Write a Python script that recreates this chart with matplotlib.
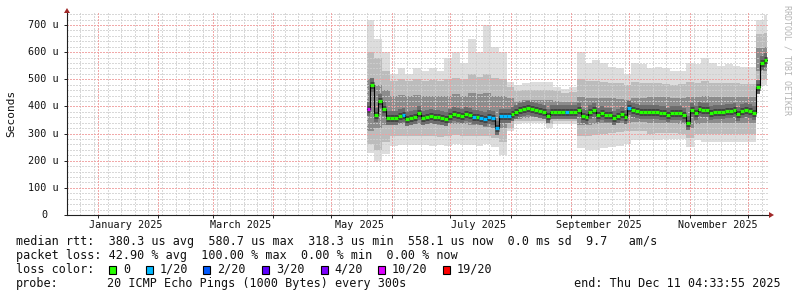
import matplotlib
matplotlib.use("Agg")
import matplotlib.pyplot as plt
from matplotlib.patches import Polygon, Rectangle
from matplotlib.transforms import blended_transform_factory
import pandas as pd

# time range of the graph (last 360 days)
graph_start = pd.Timestamp("2024-12-16 04:33:55")
graph_end = pd.Timestamp("2025-12-11 04:33:55")
data_end = pd.Timestamp("2025-12-10 12:00")

# median rtt in microseconds, one value every 2 days from 2025-05-19
med_rtt = [390, 479, 370, 420, 390, 358, 358, 357, 365, 368,
           352, 357, 361, 376, 358, 362, 365, 362, 362, 358,
           352, 365, 372, 368, 365, 372, 368, 362, 360, 357,
           354, 361, 357, 322, 365, 365, 366, 372, 381, 385,
           390, 394, 390, 387, 384, 380, 365, 381, 381, 381,
           378, 379, 381, 380, 385, 365, 362, 379, 385, 368,
           375, 368, 370, 358, 366, 372, 360, 394, 387, 384,
           380, 378, 380, 381, 378, 377, 375, 368, 375, 376,
           375, 370, 340, 385, 376, 390, 385, 388, 374, 381,
           379, 380, 382, 383, 387, 372, 382, 386, 382, 377,
           470, 560, 570]
# lost pings out of 20 for each median sample
med_loss = [10, 0, 0, 0, 0, 0, 0, 0, 0, 1,
            0, 0, 0, 0, 0, 0, 0, 0, 0, 0,
            0, 0, 0, 0, 0, 0, 0, 1, 0, 1,
            1, 1, 1, 1, 1, 1, 1, 0, 0, 0,
            0, 0, 0, 0, 0, 0, 0, 0, 0, 0,
            0, 1, 0, 0, 0, 0, 0, 0, 0, 0,
            0, 0, 0, 0, 0, 0, 0, 1, 0, 0,
            0, 0, 0, 0, 0, 0, 0, 0, 0, 0,
            0, 0, 0, 0, 0, 0, 0, 0, 0, 0,
            0, 0, 0, 0, 0, 0, 0, 0, 0, 0,
            0, 0, 0]

# smoke envelope (microseconds), one value every 4 days from 2025-05-19
band_max = [720, 650, 600,
            520, 540, 520, 540, 530, 540, 530,
            580, 600, 560, 650, 600, 700, 620, 600,
            490,
            480, 485, 490, 490, 490, 470, 465, 470,
            600, 560, 570, 560, 545, 540, 520, 560, 555,
            540, 545, 540, 530, 530, 560, 555, 580, 560, 550, 555, 550, 545, 545,
            720, 735]
band_hi2 = [600, 580, 530,
            495, 500, 495, 500, 495, 498, 495,
            500, 505, 500, 520, 510, 520, 505, 500,
            470,
            458, 460, 462, 462, 460, 455, 450, 452,
            500, 495, 495, 490, 488, 485, 480, 490, 488,
            485, 485, 483, 480, 482, 490, 488, 492, 488, 485, 487, 485, 483, 483,
            665, 670]
band_hi1 = [500, 480, 460,
            440, 442, 440, 442, 440, 440, 438,
            440, 445, 440, 450, 445, 450, 440, 440,
            430,
            420, 422, 425, 425, 422, 420, 418, 418,
            435, 432, 432, 430, 430, 428, 425, 430, 430,
            435, 435, 433, 430, 432, 435, 435, 438, 436, 434, 436, 435, 434, 434,
            615, 620]
band_lo1 = [310, 320, 330,
            335, 335, 333, 335, 335, 334, 333,
            335, 335, 335, 330, 330, 325, 320, 320,
            345,
            355, 358, 360, 360, 355, 358, 358, 358,
            330, 330, 335, 338, 340, 340, 340, 342, 342,
            338, 338, 340, 338, 336, 320, 336, 338, 338, 338, 340, 338, 338, 338,
            530, 530]
band_lo2 = [260, 240, 270,
            290, 292, 290, 290, 290, 290, 288,
            290, 295, 290, 290, 290, 290, 285, 270,
            320,
            345, 348, 348, 348, 335, 345, 345, 345,
            290, 290, 295, 300, 302, 305, 308, 310, 310,
            300, 302, 303, 302, 300, 285, 300, 298, 298, 300, 300, 300, 298, 298,
            500, 500]
band_min = [230, 200, 225,
            255, 258, 258, 256, 258, 255, 258,
            255, 260, 258, 258, 255, 260, 250, 220,
            310,
            335, 338, 338, 338, 320, 335, 335, 335,
            245, 240, 240, 245, 250, 255, 260, 276, 276,
            275, 278, 280, 280, 280, 250, 275, 268, 268, 268, 268, 268, 268, 268,
            475, 478]

loss_steps = [0, 1, 2, 3, 4, 10, 19]
loss_labels = ["0", "1/20", "2/20", "3/20", "4/20", "10/20", "19/20"]
loss_colors = ["#26ff00", "#00b8ff", "#0059ff", "#5e00ff", "#7e00ff", "#dd00ff", "#ff0000"]

y_ticks = [0, 100, 200, 300, 400, 500, 600, 700]
y_labels = ["0", "100 u", "200 u", "300 u", "400 u", "500 u", "600 u", "700 u"]
month_labels = ["January 2025", "March 2025", "May 2025", "July 2025",
                "September 2025", "November 2025"]
month_label_dates = ["2025-01-15 12:00", "2025-03-15 12:00", "2025-05-15 12:00",
                     "2025-07-15 12:00", "2025-09-15 12:00", "2025-11-15 12:00"]

W, H = 797, 297
MONO = "DejaVu Sans Mono"


def fx(x):
    return x / W


def fy(y):
    return 1 - y / H


fig = plt.figure(figsize=(W / 100, H / 100), dpi=100)
fig.patch.set_facecolor("white")
ax = fig.add_axes([fx(67), fy(215), (768 - 67) / W, (215 - 13) / H])
ax.set_xlim(graph_start, graph_end)
ax.set_ylim(0, 744)

# smoke bands
band_dates = list(pd.date_range("2025-05-19", periods=len(band_max), freq="4D")) + [data_end]


def ext(v):
    return list(v) + [v[-1]]


ax.fill_between(band_dates, ext(band_min), ext(band_max), step="post", color="#dddddd", lw=0, zorder=1)
ax.fill_between(band_dates, ext(band_lo2), ext(band_hi2), step="post", color="#bcbcbc", lw=0, zorder=1.1)
ax.fill_between(band_dates, ext(band_lo1), ext(band_hi1), step="post", color="#8c8c8c", lw=0, zorder=1.2)

# grid (dotted, drawn over the smoke like rrdtool)
week_days = pd.date_range("2024-12-23", graph_end, freq="7D")
month_starts = pd.date_range("2025-01-01", graph_end, freq="MS")
dots = (0, (1.39, 1.39))
grid_kw = dict(lw=0.72, ls=dots, antialiased=False)
for d in week_days:
    ax.axvline(d, color="#cfcfcf", alpha=0.8, zorder=2, **grid_kw)
for v in range(20, 744, 20):
    if v % 100:
        ax.axhline(v, color="#cfcfcf", alpha=0.8, zorder=2, **grid_kw)
for d in month_starts:
    ax.axvline(d, color="#f0a0a0", alpha=0.9, zorder=2.1, **grid_kw)
for v in y_ticks[1:]:
    ax.axhline(v, color="#f0a0a0", alpha=0.9, zorder=2.1, **grid_kw)

# median line: dark core, thin black connector, coloured loss segments
med_dates = list(pd.date_range("2025-05-19", periods=len(med_rtt), freq="2D")) + [data_end]
ax.hlines(med_rtt, med_dates[:-1], med_dates[1:], colors="#6c6c6c", lw=10, zorder=3)
ax.hlines(med_rtt, med_dates[:-1], med_dates[1:], colors="#424242", lw=5, zorder=3.1)
ax.step(med_dates, ext(med_rtt), where="post", color="black", lw=0.8, zorder=3.2)


def loss_color(n):
    c = loss_colors[0]
    for s, col in zip(loss_steps, loss_colors):
        if n >= s:
            c = col
    return c


seg_colors = [loss_color(n) for n in med_loss]
ax.hlines(med_rtt, med_dates[:-1], med_dates[1:], colors=seg_colors, lw=2.3, zorder=4)

# axes styling
for s in ["top", "right"]:
    ax.spines[s].set_visible(False)
for s in ["left", "bottom"]:
    ax.spines[s].set_color("#202020")
    ax.spines[s].set_linewidth(0.8)
    ax.spines[s].set_zorder(5)
ax.set_facecolor("white")
ax.set_yticks(y_ticks)
ax.set_xticks(month_starts)
ax.tick_params(length=2, width=0.7, color="#202020", labelleft=False, labelbottom=False)

# tick labels
tr_y = blended_transform_factory(fig.transFigure, ax.transData)
for v, lab in zip(y_ticks, y_labels):
    xr = 47 if lab == "0" else 59
    ax.text(fx(xr), v, lab, transform=tr_y, ha="right", va="center",
            family=MONO, size=7.3, color="#111111")
tr_x = blended_transform_factory(ax.transData, fig.transFigure)
for d, lab in zip(month_label_dates, month_labels):
    ax.text(pd.Timestamp(d), fy(225), lab, transform=tr_x, ha="center", va="center",
            family=MONO, size=7.3, color="#111111")

fig.text(fx(11), fy(113), "Seconds", rotation=90, ha="center", va="center",
         family=MONO, size=8, color="#111111")
fig.text(fx(787), fy(60), "RRDTOOL / TOBI OETIKER", rotation=270, ha="center", va="center",
         family=MONO, size=6, color="#b4b4b4")

# axis arrows
fig.add_artist(Polygon([(fx(769), fy(212)), (fx(769), fy(218)), (fx(774), fy(215))],
                       closed=True, transform=fig.transFigure, color="#a02828", lw=0))
fig.add_artist(Polygon([(fx(64), fy(13)), (fx(70), fy(13)), (fx(67), fy(8))],
                       closed=True, transform=fig.transFigure, color="#a02828", lw=0))

# legend
leg_size = 8.5
fig.text(fx(16), fy(241.5),
         "median rtt:  380.3 us avg  580.7 us max  318.3 us min  558.1 us now  0.0 ms sd  9.7   am/s",
         ha="left", va="center", family=MONO, size=leg_size, color="#111111")
fig.text(fx(16), fy(255.5),
         "packet loss: 42.90 % avg  100.00 % max  0.00 % min  0.00 % now",
         ha="left", va="center", family=MONO, size=leg_size, color="#111111")
fig.text(fx(16), fy(269.5), "loss color:", ha="left", va="center",
         family=MONO, size=leg_size, color="#111111")
box_x = [109, 146, 203.5, 262, 320.5, 378, 443]
for bx, col, lab in zip(box_x, loss_colors, loss_labels):
    fig.add_artist(Rectangle((fx(bx), fy(273.5)), 7 / W, 8 / H, transform=fig.transFigure,
                             facecolor=col, edgecolor="black", lw=0.8))
    fig.text(fx(bx + 14), fy(269.5), lab, ha="left", va="center",
             family=MONO, size=leg_size, color="#111111")
fig.text(fx(16), fy(283.5), "probe:", ha="left", va="center",
         family=MONO, size=leg_size, color="#111111")
fig.text(fx(107), fy(283.5), "20 ICMP Echo Pings (1000 Bytes) every 300s", ha="left", va="center",
         family=MONO, size=leg_size, color="#111111")
fig.text(fx(781), fy(283.5), "end: Thu Dec 11 04:33:55 2025", ha="right", va="center",
         family=MONO, size=leg_size, color="#111111")

fig.savefig("out.png", dpi=100, facecolor="white")
